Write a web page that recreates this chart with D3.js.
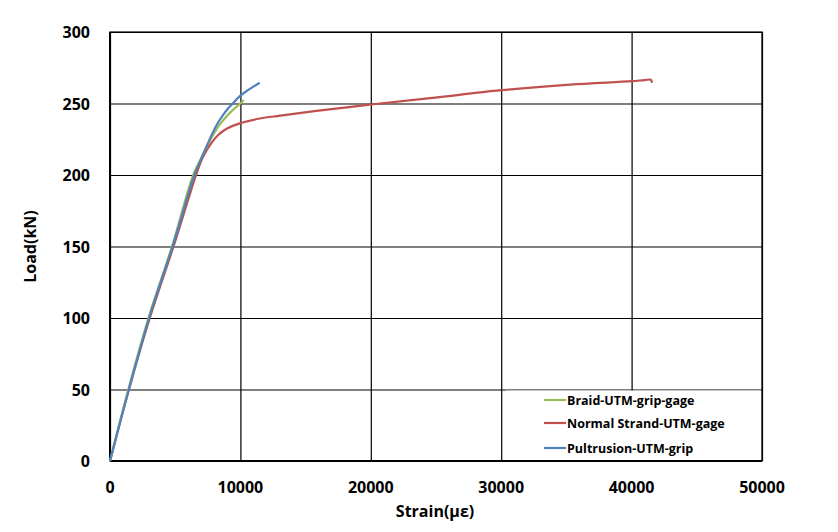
<!DOCTYPE html>
<html><head><meta charset="utf-8">
<script src="https://cdn.jsdelivr.net/npm/d3@7"></script>
<style>body{margin:0;background:#fff;}svg{display:block;font-family:"Open Sans","Noto Sans",sans-serif;}</style>
</head><body>
<script>
const seriesNames = ["Braid-UTM-grip-gage", "Normal Strand-UTM-gage", "Pultrusion-UTM-grip"];
const seriesColors = ["#9BBB59", "#C0504D", "#4F81BD"];
const braidStrain = [0, 1400, 2950, 4750, 6380, 7000, 7600, 8000, 8400, 8800, 9360, 10000, 10250];
const braidLoad   = [0, 50, 100, 150, 200, 212, 223, 229.5, 235, 239.5, 245, 250, 252.5];
const strandStrain = [0, 1450, 3050, 4870, 6000, 6600, 7100, 7700, 8300, 8980, 10000, 11500, 13065, 16000, 20000, 24560, 30000, 35280, 40000, 41000, 41470, 41570];
const strandLoad   = [0, 50, 100, 150, 183, 200, 212, 221.5, 228, 232.5, 236.3, 239.5, 241.5, 245, 249.3, 253.7, 259.3, 263.2, 265.6, 266.4, 266.6, 264.5];
const pultStrain = [0, 1450, 3000, 4800, 6470, 6935, 7573, 7900, 8212, 8600, 9000, 9360, 10000, 10700, 11480];
const pultLoad   = [0, 50, 100, 150, 200, 210, 223.5, 230, 235.5, 241, 246, 249.5, 255.5, 260, 264.5];
const xTicks = [0, 10000, 20000, 30000, 40000, 50000];
const yTicks = [0, 50, 100, 150, 200, 250, 300];

const W = 838, H = 532;
const L = 110, R = 762, T = 32, B = 461;
const svg = d3.select("body").append("svg").attr("width", W).attr("height", H);
const x = d3.scaleLinear().domain([0, 50000]).range([L, R]);
const y = d3.scaleLinear().domain([0, 300]).range([B, T]);

// grid
svg.append("g").attr("transform", `translate(0,${B})`)
  .call(d3.axisBottom(x).tickValues(xTicks).tickSize(-(B - T)).tickFormat(""))
  .call(g => g.select(".domain").remove())
  .selectAll("line").attr("stroke", "#000").attr("stroke-width", 1.2);
svg.append("g").attr("transform", `translate(${L},0)`)
  .call(d3.axisLeft(y).tickValues(yTicks).tickSize(-(R - L)).tickFormat(""))
  .call(g => g.select(".domain").remove())
  .selectAll("line").attr("stroke", "#000").attr("stroke-width", 1.2);
svg.append("rect").attr("x", L).attr("y", T).attr("width", R - L).attr("height", B - T)
  .attr("fill", "none").attr("stroke", "#000").attr("stroke-width", 1.2);
svg.append("line").attr("x1", L).attr("x2", R).attr("y1", B).attr("y2", B).attr("stroke", "#000").attr("stroke-width", 2);
svg.append("line").attr("x1", L).attr("x2", L).attr("y1", T).attr("y2", B).attr("stroke", "#000").attr("stroke-width", 2);

// tick labels
svg.append("g").selectAll("text").data(xTicks).join("text")
  .attr("x", d => x(d)).attr("y", B + 32).attr("text-anchor", "middle")
  .attr("font-size", 16).attr("font-weight", "bold").text(d => d);
svg.append("g").selectAll("text").data(yTicks).join("text")
  .attr("x", L - 20).attr("y", d => y(d) + 6).attr("text-anchor", "end")
  .attr("font-size", 16).attr("font-weight", "bold").text(d => d);

// axis titles
svg.append("text").attr("x", (L + R) / 2 - 1).attr("y", 517).attr("text-anchor", "middle")
  .attr("font-size", 16).attr("font-weight", "bold").text("Strain(με)");
svg.append("text").attr("transform", `translate(36,${(T + B) / 2}) rotate(-90)`).attr("text-anchor", "middle")
  .attr("font-size", 16).attr("font-weight", "bold").text("Load(kN)");

// series
const datasets = [
  d3.zip(braidStrain, braidLoad),
  d3.zip(strandStrain, strandLoad),
  d3.zip(pultStrain, pultLoad)
];
const line = d3.line().x(d => x(d[0])).y(d => y(d[1])).curve(d3.curveCatmullRom.alpha(0.5));
const drawOrder = [1, 0, 2];
drawOrder.forEach(i => {
  svg.append("path").datum(datasets[i]).attr("d", line)
    .attr("fill", "none").attr("stroke", seriesColors[i]).attr("stroke-width", 2.2);
});

// legend
const lg = svg.append("g");
lg.append("rect").attr("x", 506).attr("y", y(50) + 1).attr("width", R - 506 - 1).attr("height", B - y(50) - 2).attr("fill", "#fff");
const rowsY = [400, 423, 448];
seriesNames.forEach((n, i) => {
  lg.append("line").attr("x1", 544).attr("x2", 566).attr("y1", rowsY[i]).attr("y2", rowsY[i])
    .attr("stroke", seriesColors[i]).attr("stroke-width", 2.2);
  lg.append("text").attr("x", 567).attr("y", rowsY[i] + 4.5).attr("font-size", 12.5).attr("font-weight", "bold").text(n);
});
</script>
</body></html>
